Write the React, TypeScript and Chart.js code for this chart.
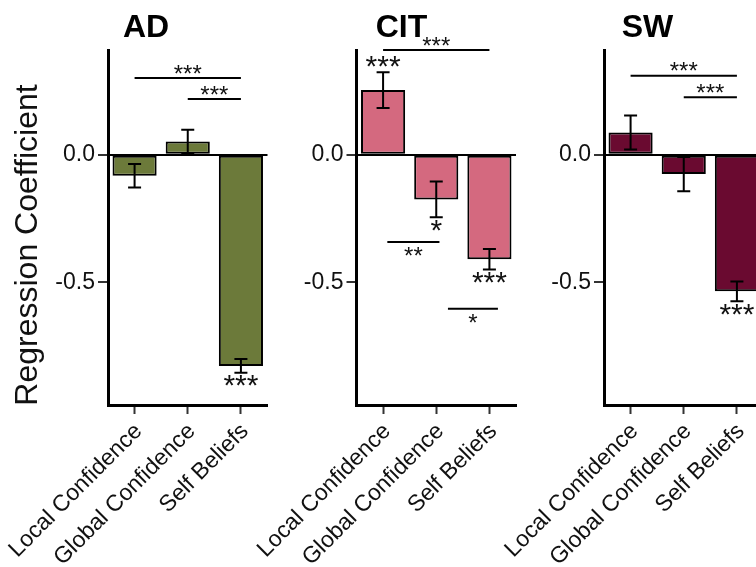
import React, { useEffect, useRef } from "react";
import { Chart, registerables } from "chart.js";

Chart.register(...registerables);

const FONT = '"Liberation Sans", Arial, Helvetica, sans-serif';
Chart.defaults.font.family = FONT;

// ---- data ----
const categories = ["Local Confidence", "Global Confidence", "Self Beliefs"];
const panelTitles = ["AD", "CIT", "SW"];
const panelColors = ["#6C7A3A", "#D4697F", "#6A0A30"];

const adValues = [-0.082, 0.052, -0.827];
const adErrors = [0.046, 0.046, 0.027];
const adStars = ["", "", "***"];

const citValues = [0.253, -0.175, -0.409];
const citErrors = [0.07, 0.07, 0.04];
const citStars = ["***", "*", "***"];

const swValues = [0.087, -0.076, -0.535];
const swErrors = [0.067, 0.067, 0.039];
const swStars = ["", "", "***"];

const yTickValues = [-0.5, 0];
const yMin = -0.98;
const yMax = 0.41;

// pairwise comparisons: category span (index units), bracket height, label, label side
type Bracket = { from: number; to: number; y: number; label: string; side: "above" | "below" };
const adBrackets: Bracket[] = [
  { from: 0, to: 2, y: 0.3, label: "***", side: "above" },
  { from: 1, to: 2, y: 0.218, label: "***", side: "above" },
];
const citBrackets: Bracket[] = [
  { from: 0, to: 2, y: 0.41, label: "***", side: "above" },
  { from: 0.08, to: 1.06, y: -0.342, label: "**", side: "below" },
  { from: 1.22, to: 2.16, y: -0.603, label: "*", side: "below" },
];
const swBrackets: Bracket[] = [
  { from: 0, to: 2, y: 0.309, label: "***", side: "above" },
  { from: 1, to: 2, y: 0.225, label: "***", side: "above" },
];

const panels = [
  { title: panelTitles[0], color: panelColors[0], values: adValues, errors: adErrors, stars: adStars, brackets: adBrackets },
  { title: panelTitles[1], color: panelColors[1], values: citValues, errors: citErrors, stars: citStars, brackets: citBrackets },
  { title: panelTitles[2], color: panelColors[2], values: swValues, errors: swErrors, stars: swStars, brackets: swBrackets },
];

// ---- layout ----
const CANVAS_W = 800;
const CANVAS_H = 567;
const PANEL_LEFT = [108, 356.5, 604];
const PANEL_W = 159.5;
const Y_AXIS_W = 60;
const PLOT_TOP = 50;
const X_AXIS_H = 162;
const TITLE_OFFSET = [38, 45, 43.5];

// asterisk glyph centre offset from the baseline, in em
function drawStars(ctx: CanvasRenderingContext2D, text: string, x: number, centerY: number, size: number) {
  ctx.font = `${size}px ${FONT}`;
  ctx.textAlign = "center";
  ctx.textBaseline = "alphabetic";
  ctx.fillStyle = "#111";
  ctx.fillText(text, x, centerY + 0.42 * size);
}

function PanelCanvas({ idx }: { idx: number }) {
  const ref = useRef<HTMLCanvasElement | null>(null);

  useEffect(() => {
    const p = panels[idx];
    const canvas = ref.current!;
    const left = PANEL_LEFT[idx];

    const annotate = {
      id: "annotate" + idx,
      afterDatasetsDraw(chart: any) {
        const { ctx, scales } = chart;
        const x = scales.x;
        const y = scales.y;
        ctx.save();
        ctx.strokeStyle = "#000";
        ctx.lineWidth = 2;
        ctx.lineCap = "butt";

        // error bars and per-bar significance
        p.values.forEach((v: number, i: number) => {
          const px = x.getPixelForValue(i);
          const hi = y.getPixelForValue(v + p.errors[i]);
          const lo = y.getPixelForValue(v - p.errors[i]);
          ctx.beginPath();
          ctx.moveTo(px, hi);
          ctx.lineTo(px, lo);
          ctx.moveTo(px - 6.5, hi);
          ctx.lineTo(px + 6.5, hi);
          ctx.moveTo(px - 6.5, lo);
          ctx.lineTo(px + 6.5, lo);
          ctx.stroke();
          const s = p.stars[i];
          if (s) {
            if (v > 0) drawStars(ctx, s, px, hi - 9, 30);
            else drawStars(ctx, s, px, lo + 10, 30);
          }
        });

        // comparison brackets
        p.brackets.forEach((b: Bracket) => {
          const x1 = x.getPixelForValue(b.from);
          const x2 = x.getPixelForValue(b.to);
          const by = y.getPixelForValue(b.y);
          ctx.beginPath();
          ctx.moveTo(x1, by);
          ctx.lineTo(x2, by);
          ctx.stroke();
          const cx = (x1 + x2) / 2;
          if (b.side === "above") drawStars(ctx, b.label, cx, by - 6.5, 24);
          else drawStars(ctx, b.label, cx, by + 12, 24);
        });

        // panel title
        ctx.font = `bold 32px ${FONT}`;
        ctx.fillStyle = "#000";
        ctx.textAlign = "center";
        ctx.textBaseline = "alphabetic";
        ctx.fillText(p.title, chart.chartArea.left + TITLE_OFFSET[idx], 37);

        // shared y-axis title on the first panel
        if (idx === 0) {
          ctx.translate(37, 245);
          ctx.rotate(-Math.PI / 2);
          ctx.font = `32px ${FONT}`;
          ctx.fillStyle = "#111";
          ctx.textAlign = "center";
          ctx.fillText("Regression Coefficient", 0, 0);
        }
        ctx.restore();
      },
    };

    const chart = new Chart(canvas, {
      type: "bar",
      data: {
        labels: categories,
        datasets: [
          {
            data: p.values,
            backgroundColor: p.color,
            borderColor: "#000",
            borderWidth: 2,
            borderSkipped: false,
            barPercentage: 0.83,
            categoryPercentage: 1,
          },
        ],
      },
      options: {
        responsive: false,
        animation: false,
        events: [],
        layout: {
          padding: {
            left: left - Y_AXIS_W,
            right: CANVAS_W - (left + PANEL_W),
            top: PLOT_TOP,
            bottom: 0,
          },
        },
        plugins: {
          legend: { display: false },
          tooltip: { enabled: false },
          title: { display: false },
        },
        scales: {
          x: {
            offset: true,
            grid: {
              display: true,
              offset: false,
              drawOnChartArea: false,
              drawTicks: true,
              tickLength: 9,
              tickColor: "#333",
              tickWidth: 2,
            },
            border: { display: true, color: "#000", width: 3 },
            ticks: {
              autoSkip: false,
              minRotation: 45,
              maxRotation: 45,
              padding: 4,
              labelOffset: 4,
              color: "#111",
              font: { size: 23, family: FONT },
            },
            afterFit(scale: any) {
              scale.height = X_AXIS_H;
              scale.paddingLeft = 0;
              scale.paddingRight = 0;
            },
          },
          y: {
            min: yMin,
            max: yMax,
            grid: {
              drawOnChartArea: true,
              color: (c: any) => (c.tick && c.tick.value === 0 ? "#000" : "rgba(0,0,0,0)"),
              lineWidth: 2,
              tickColor: "#333",
              tickWidth: 2,
              tickLength: 10,
            },
            border: { display: true, color: "#000", width: 3 },
            ticks: {
              padding: 3,
              color: "#111",
              font: { size: 23, family: FONT },
              callback: (v: any) => Number(v).toFixed(1),
            },
            afterBuildTicks(scale: any) {
              scale.ticks = yTickValues.map((v) => ({ value: v }));
            },
            afterFit(scale: any) {
              scale.width = Y_AXIS_W;
              scale.paddingTop = 0;
              scale.paddingBottom = 0;
            },
          },
        },
      },
      plugins: [annotate],
    } as any);

    return () => chart.destroy();
  }, [idx]);

  return (
    <canvas
      ref={ref}
      width={CANVAS_W}
      height={CANVAS_H}
      style={{ position: "absolute", left: 0, top: 0, width: CANVAS_W, height: CANVAS_H }}
    />
  );
}

export default function App() {
  return (
    <div
      style={{
        position: "fixed",
        left: 0,
        top: 0,
        width: 756,
        height: 567,
        overflow: "hidden",
        background: "#fff",
      }}
    >
      {panels.map((_, i) => (
        <PanelCanvas key={i} idx={i} />
      ))}
    </div>
  );
}
